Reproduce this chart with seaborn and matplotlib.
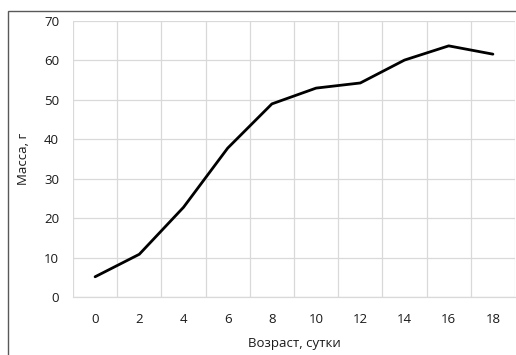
import matplotlib
matplotlib.use("Agg")
import matplotlib.pyplot as plt
from matplotlib.patches import Rectangle
from matplotlib.ticker import MultipleLocator, FixedLocator
import seaborn as sns
import pandas as pd

age_days = [0, 2, 4, 6, 8, 10, 12, 14, 16, 18]
mass_g = [5.2, 10.9, 22.8, 37.8, 49.0, 53.0, 54.3, 60.1, 63.7, 61.6]
x_label = "Возраст, сутки"
y_label = "Масса, г"

sns.set_theme(style="white")
plt.rcParams["font.family"] = ["Open Sans", "DejaVu Sans"]

df = pd.DataFrame({"age": age_days, "mass": mass_g})

fig = plt.figure(figsize=(5.16, 3.55), dpi=100)
ax = fig.add_axes([73/516, 1-297.3/355, (515-73)/516, (297.3-21)/355])

sns.lineplot(data=df, x="age", y="mass", ax=ax, color="black", linewidth=2.0)

ax.set_xlim(-1, 19)
ax.set_ylim(0, 70)
ax.xaxis.set_major_locator(FixedLocator(age_days))
ax.xaxis.set_minor_locator(FixedLocator([a + 1 for a in [-2] + age_days]))
ax.yaxis.set_major_locator(MultipleLocator(10))

ax.grid(False)
ax.grid(True, which="minor", axis="x", color="#d9d9d9", linewidth=0.9)
ax.grid(True, which="major", axis="y", color="#d9d9d9", linewidth=0.9)

for s in ["top", "right", "left"]:
    ax.spines[s].set_visible(False)
ax.spines["bottom"].set_color("#d9d9d9")
ax.spines["bottom"].set_linewidth(0.9)

ax.tick_params(axis="both", which="both", length=0, labelsize=9.5, colors="#404040")
ax.tick_params(axis="y", pad=10)
ax.tick_params(axis="x", pad=11)
for lbl in ax.get_xticklabels() + ax.get_yticklabels():
    lbl.set_color("#1a1a1a")

ax.set_xlabel(x_label, fontsize=9.5, color="#1a1a1a", labelpad=8)
ax.set_ylabel(y_label, fontsize=9.5, color="#1a1a1a", labelpad=10)

# outer chart frame (only top and left visible in the crop)
fig.patches.append(Rectangle((8/516, -0.1), 1.2, 1.1 - 11/355 + 0.0, transform=fig.transFigure,
                             fill=False, edgecolor="#595959", linewidth=1.0))

fig.savefig("out.png", dpi=100)
